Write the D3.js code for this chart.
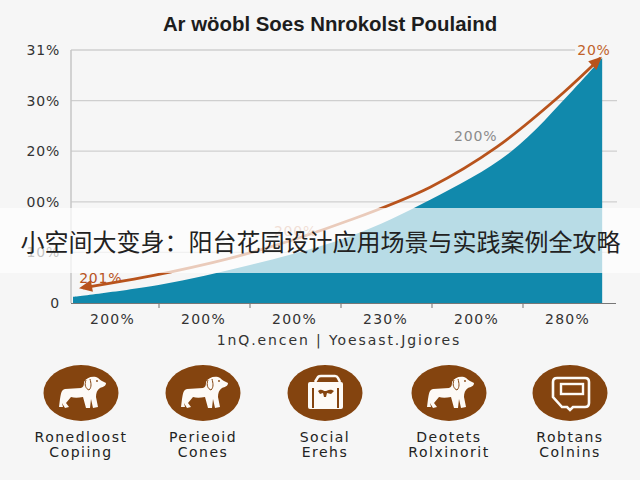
<!DOCTYPE html>
<html><head><meta charset="utf-8">
<script src="https://cdn.jsdelivr.net/npm/d3@7/dist/d3.min.js"></script>
<style>html,body{margin:0;padding:0;background:#f6f6f6}svg{display:block}text{font-family:"DejaVu Sans",sans-serif}</style>
</head><body><svg id="c" width="640" height="480"></svg>
<script>
const titleText = "Ar wöobl Soes Nnrokolst Poulaind";
const bannerText = "小空间大变身：阳台花园设计应用场景与实践案例全攻略";
const yTicks = [0,10,20,30,40,50];
const yLabels = ["0","10%","00%","20%","30%","31%"];
const xTicks = [1,2,3,4,5];
const xLabelPos = [0.5,1.5,2.5,3.5,4.5,5.5];
const xLabels = ["200%","200%","200%","230%","200%","280%"];
const axisTitle = "1nQ.encen | Yoesast.Jgiores";
const areaX = [0.055,1.01,2,3.1,3.98,4.86,5.55,5.87];
const areaY = [1.2,3.6,7.5,13.2,20.4,29.8,42.1,48.4];
const lineX = [0.165,1.12,2,3.1,3.98,4.71,5.44,5.85];
const lineY = [3,6.1,9.9,16.4,22.9,30.8,41.5,48.4];
const notes = [{x:0.36,y:5,t:"201%",c:"#b8531c",o:1},{x:2.5,y:14.2,t:"200%",c:"#c9825c",o:.85},{x:4.48,y:33,t:"200%",c:"#8b8b8b",o:1},{x:5.78,y:50,t:"20%",c:"#c0622a",o:1}];
const cats = [["Ronedloost","Copiing"],["Perieoid","Cones"],["Social","Erehs"],["Deotets","Rolxinorit"],["Robtans","Colnins"]];
const iconX = [81,203,325,449,570];
const iconKind = ["dog","dog","box","dog","tag"];

const svg = d3.select("#c");
const x = d3.scaleLinear().domain([0,6]).range([68,614]);
const y = d3.scaleLinear().domain([0,50]).range([303,50]);
const brown = "#84440f", cream = "#fdfaf6", rust = "#b8531c";

svg.append("text").attr("x",330).attr("y",31).attr("text-anchor","middle").attr("font-size",20.4).attr("font-weight",700).attr("fill","#1d1d1d").style("font-family",'"Liberation Sans"').text(titleText);

svg.append("g").selectAll("line").data(yTicks.slice(1)).join("line")
 .attr("x1",71).attr("x2",d=>d===50?575:617).attr("y1",d=>y(d)).attr("y2",d=>y(d)).attr("stroke","#cfcfcf").attr("stroke-width",1.3);
svg.append("g").selectAll("text").data(yTicks).join("text")
 .attr("x",60).attr("text-anchor","end").attr("y",d=>y(d)+5).attr("font-size",14).attr("letter-spacing",.8).attr("fill","#333").text((d,i)=>yLabels[i]);
svg.append("line").attr("x1",71).attr("x2",71).attr("y1",50).attr("y2",303).attr("stroke","#c6c6c6").attr("stroke-width",1.5);

const area = d3.area().x(d=>x(d[0])).y0(y(0)).y1(d=>y(d[1])).curve(d3.curveCatmullRom);
svg.append("path").datum(d3.zip(areaX,areaY)).attr("d",area).attr("fill","#1189ac");
svg.append("line").attr("x1",71).attr("x2",616).attr("y1",303.5).attr("y2",303.5).attr("stroke","#777").attr("stroke-width",1.2);
svg.append("g").selectAll("line").data(xTicks).join("line")
 .attr("x1",d=>x(d)).attr("x2",d=>x(d)).attr("y1",304).attr("y2",308).attr("stroke","#999").attr("stroke-width",1.4);
svg.append("g").selectAll("text").data(xLabelPos).join("text")
 .attr("x",d=>x(d)-1).attr("y",324).attr("text-anchor","middle").attr("font-size",14).attr("letter-spacing",1.2).attr("fill","#333").text((d,i)=>xLabels[i]);
svg.append("text").attr("x",339).attr("y",345).attr("text-anchor","middle").attr("font-size",14).attr("letter-spacing",1.9).attr("fill","#333").text(axisTitle);

const line = d3.line().x(d=>x(d[0])).y(d=>y(d[1])).curve(d3.curveCatmullRom);
const lp = d3.zip(lineX,lineY);
svg.append("path").datum(lp).attr("d",line).attr("fill","none").attr("stroke",rust).attr("stroke-width",2.8);
const tip = lp[lp.length-1], prev = lp[lp.length-2];
const ang = Math.atan2(y(tip[1])-y(prev[1]),x(tip[0])-x(prev[0]));
const headPts = [[2,0],[-11,-6],[-11,6]];
svg.append("polygon").attr("points",headPts.map(p=>p.join(",")).join(" "))
 .attr("transform",`translate(${x(tip[0])},${y(tip[1])}) rotate(${ang*180/Math.PI})`).attr("fill",rust);
const start = lp[0];
svg.append("polygon").attr("points",headPts.map(p=>p.join(",")).join(" "))
 .attr("transform",`translate(${x(start[0])-2},${y(start[1])}) rotate(170)`).attr("fill",rust);

svg.append("g").selectAll("text").data(notes).join("text")
 .attr("x",d=>x(d.x)).attr("y",d=>y(d.y)+5).attr("text-anchor","middle").attr("font-size",14).attr("letter-spacing",.8)
 .attr("fill",d=>d.c).attr("opacity",d=>d.o).text(d=>d.t);

const dog = "M-22,14 L-21,6 C-20,1 -20,-3 -16,-4 L0,-5 C3,-6 3,-9 3,-11 C5,-15 10,-17 15,-16 C18,-15 20,-12 21,-12 L25,-10 C25,-7 22,-6 19,-5 C16,-3 15,0 15,4 L17,14 L12,15 L10,6 L9,15 L5,15 L2,4 C-3,5 -7,5 -10,4 L-15,10 L-12,14 L-16,15 L-19,10 L-18,14 Z";
const ear = "M5,-13 C3,-8 5,-4 8,-3 C11,-6 10,-10 9,-14";
const g = svg.append("g").selectAll("g").data(iconX).join("g").attr("transform",d=>`translate(${d},393)`);
g.append("ellipse").attr("rx",37.5).attr("ry",28).attr("fill",brown);
g.each(function(d,i){
 const s=d3.select(this), k=iconKind[i];
 if(k==="dog"){
  s.append("path").attr("d",dog).attr("fill",cream);
  s.append("path").attr("d",ear).attr("fill","none").attr("stroke",brown).attr("stroke-width",1);
  s.append("circle").attr("cx",16).attr("cy",-12).attr("r",.9).attr("fill",brown);
 }
 if(k==="box"){
  s.append("path").attr("d","M-10,-11 L-7,-16 Q-6,-17 -4,-17 L10,-17 Q12,-17 13,-15 L15,-11").attr("fill","none").attr("stroke",cream).attr("stroke-width",2.6);
  s.append("rect").attr("x",-17).attr("y",-11).attr("width",35).attr("height",27).attr("rx",2).attr("fill",cream);
  s.append("rect").attr("x",-13).attr("y",-5).attr("width",2).attr("height",20).attr("fill",brown);
  s.append("rect").attr("x",12).attr("y",-5).attr("width",2).attr("height",20).attr("fill",brown);
  s.append("path").attr("d","M-7,-2 C-4,-5 -1,-2 0,-2 C2,-2 5,-5 9,-2 L6,1 L2,0 L1,4 L-1,4 L-2,0 L-5,1 Z").attr("fill",brown);
 }
 if(k==="tag"){
  s.append("path").attr("d","M-17,-11 Q-17,-15 -13,-15 L15,-15 Q19,-15 19,-11 L19,10 Q19,14 15,14 L3,14 L0,17 L-3,14 L-8,14 L-17,4 Z").attr("fill","none").attr("stroke",cream).attr("stroke-width",2.6);
  s.append("rect").attr("x",-9).attr("y",-9).attr("width",22).attr("height",10).attr("fill","none").attr("stroke",cream).attr("stroke-width",2.4);
 }
});
const lbl = svg.append("g").selectAll("g").data(cats).join("g");
lbl.append("text").attr("x",(d,i)=>iconX[i]).attr("y",442).attr("text-anchor","middle").attr("font-size",14).attr("letter-spacing",1.5).attr("fill","#222").text(d=>d[0]);
lbl.append("text").attr("x",(d,i)=>iconX[i]).attr("y",457).attr("text-anchor","middle").attr("font-size",14).attr("letter-spacing",1.5).attr("fill","#222").text(d=>d[1]);

svg.append("rect").attr("x",0).attr("y",208).attr("width",640).attr("height",65).attr("fill","#fff").attr("opacity",.7);
svg.append("text").attr("x",320.5).attr("y",251).attr("text-anchor","middle").attr("font-size",24).attr("fill","#222").style("font-family",'"Noto Sans CJK SC"').text(bannerText);
</script></body></html>
